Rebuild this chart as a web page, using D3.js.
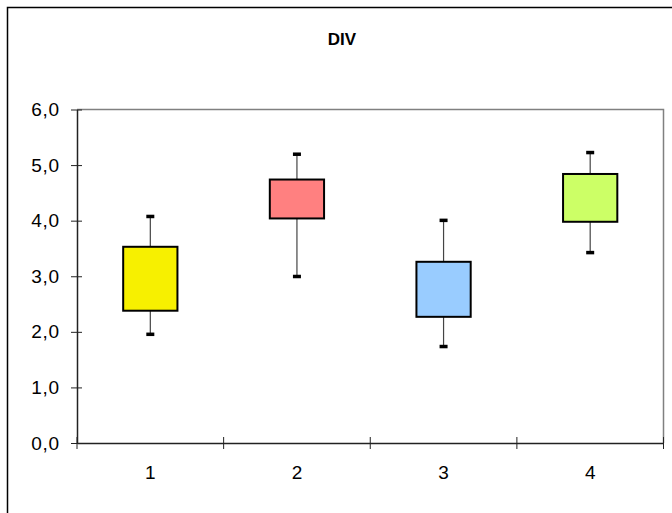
<!DOCTYPE html>
<html>
<head>
<meta charset="utf-8">
<script src="https://cdn.jsdelivr.net/npm/d3@7"></script>
<style>
  body { margin: 0; background: #fff; }
  svg { display: block; font-family: "Liberation Sans", Arial, sans-serif; }
</style>
</head>
<body>
<div id="chart"></div>
<script>
// box plot values
var categories = ["1", "2", "3", "4"];
var whiskerLow = [1.96, 3.00, 1.74, 3.43];
var boxLow = [2.38, 4.04, 2.27, 3.98];
var boxHigh = [3.53, 4.74, 3.26, 4.84];
var whiskerHigh = [4.08, 5.20, 4.01, 5.23];
var boxColors = ["#F7F000", "#FF8080", "#99CCFF", "#CCFF66"];
var yTicks = [0, 1, 2, 3, 4, 5, 6];

var width = 672, height = 513;
var plot = { left: 77, top: 109.5, right: 663.5, bottom: 443 };

var svg = d3.select("#chart").append("svg")
    .attr("width", width)
    .attr("height", height);

// outer chart frame, runs off the right and bottom of the picture
svg.append("rect")
    .attr("x", 7.5)
    .attr("y", 7.5)
    .attr("width", 700)
    .attr("height", 600)
    .attr("fill", "#fff")
    .attr("stroke", "#000")
    .attr("stroke-width", 1.5);

svg.append("text")
    .attr("x", 342)
    .attr("y", 45)
    .attr("text-anchor", "middle")
    .attr("font-size", "17px")
    .attr("font-weight", "bold")
    .text("DIV");

var x = d3.scaleBand()
    .domain(categories)
    .range([plot.left, plot.right]);

var y = d3.scaleLinear()
    .domain([0, 6])
    .range([plot.bottom, plot.top]);

// plot area border (top and right are grey)
svg.append("path")
    .attr("d", "M" + plot.left + "," + plot.top + "H" + plot.right + "V" + plot.bottom)
    .attr("fill", "none")
    .attr("stroke", "#808080")
    .attr("stroke-width", 1.5);

var yAxis = svg.append("g")
    .attr("transform", "translate(" + plot.left + ",0)")
    .call(d3.axisLeft(y)
        .tickValues(yTicks)
        .tickSizeInner(6)
        .tickSizeOuter(0)
        .tickPadding(11)
        .tickFormat(function (d) { return d3.format(".1f")(d).replace(".", ","); }));

yAxis.select(".domain").attr("stroke", "#222").attr("stroke-width", 1.5);
yAxis.selectAll(".tick line").attr("x1", 5).attr("stroke", "#222");
yAxis.selectAll(".tick text")
    .attr("font-size", "19px")
    .attr("letter-spacing", "0.8px")
    .attr("font-family", "Liberation Sans, Arial, sans-serif")
    .attr("fill", "#000");

var xAxis = svg.append("g")
    .attr("transform", "translate(0," + plot.bottom + ")")
    .call(d3.axisBottom(x)
        .tickSize(0)
        .tickPadding(23));

xAxis.select(".domain").attr("stroke", "#222").attr("stroke-width", 1.5);
xAxis.selectAll(".tick text")
    .attr("font-size", "19px")
    .attr("font-family", "Liberation Sans, Arial, sans-serif")
    .attr("fill", "#000");

// category boundary ticks
var bounds = categories.map(function (c) { return x(c); }).concat([x.range()[1]]);
xAxis.selectAll(".bound")
    .data(bounds)
    .enter().append("line")
    .attr("class", "bound")
    .attr("x1", function (d) { return d; })
    .attr("x2", function (d) { return d; })
    .attr("y1", -6)
    .attr("y2", 6)
    .attr("stroke", "#222");

var boxW = x.bandwidth() * 0.37;
var capW = 8;

var groups = svg.selectAll(".box")
    .data(categories)
    .enter().append("g")
    .attr("class", "box");

// whiskers
groups.append("line")
    .attr("x1", function (d) { return x(d) + x.bandwidth() / 2; })
    .attr("x2", function (d) { return x(d) + x.bandwidth() / 2; })
    .attr("y1", function (d, i) { return y(whiskerHigh[i]); })
    .attr("y2", function (d, i) { return y(whiskerLow[i]); })
    .attr("stroke", "#444")
    .attr("stroke-width", 1.2);

groups.append("rect")
    .attr("x", function (d) { return x(d) + x.bandwidth() / 2 - boxW / 2; })
    .attr("y", function (d, i) { return y(boxHigh[i]); })
    .attr("width", boxW)
    .attr("height", function (d, i) { return y(boxLow[i]) - y(boxHigh[i]); })
    .attr("fill", function (d, i) { return boxColors[i]; })
    .attr("stroke", "#000")
    .attr("stroke-width", 2);

// whisker caps
[whiskerLow, whiskerHigh].forEach(function (vals) {
    groups.append("rect")
        .attr("x", function (d) { return x(d) + x.bandwidth() / 2 - capW / 2; })
        .attr("y", function (d, i) { return y(vals[i]) - 1.5; })
        .attr("width", capW)
        .attr("height", 3.5)
        .attr("fill", "#000");
});
</script>
</body>
</html>
